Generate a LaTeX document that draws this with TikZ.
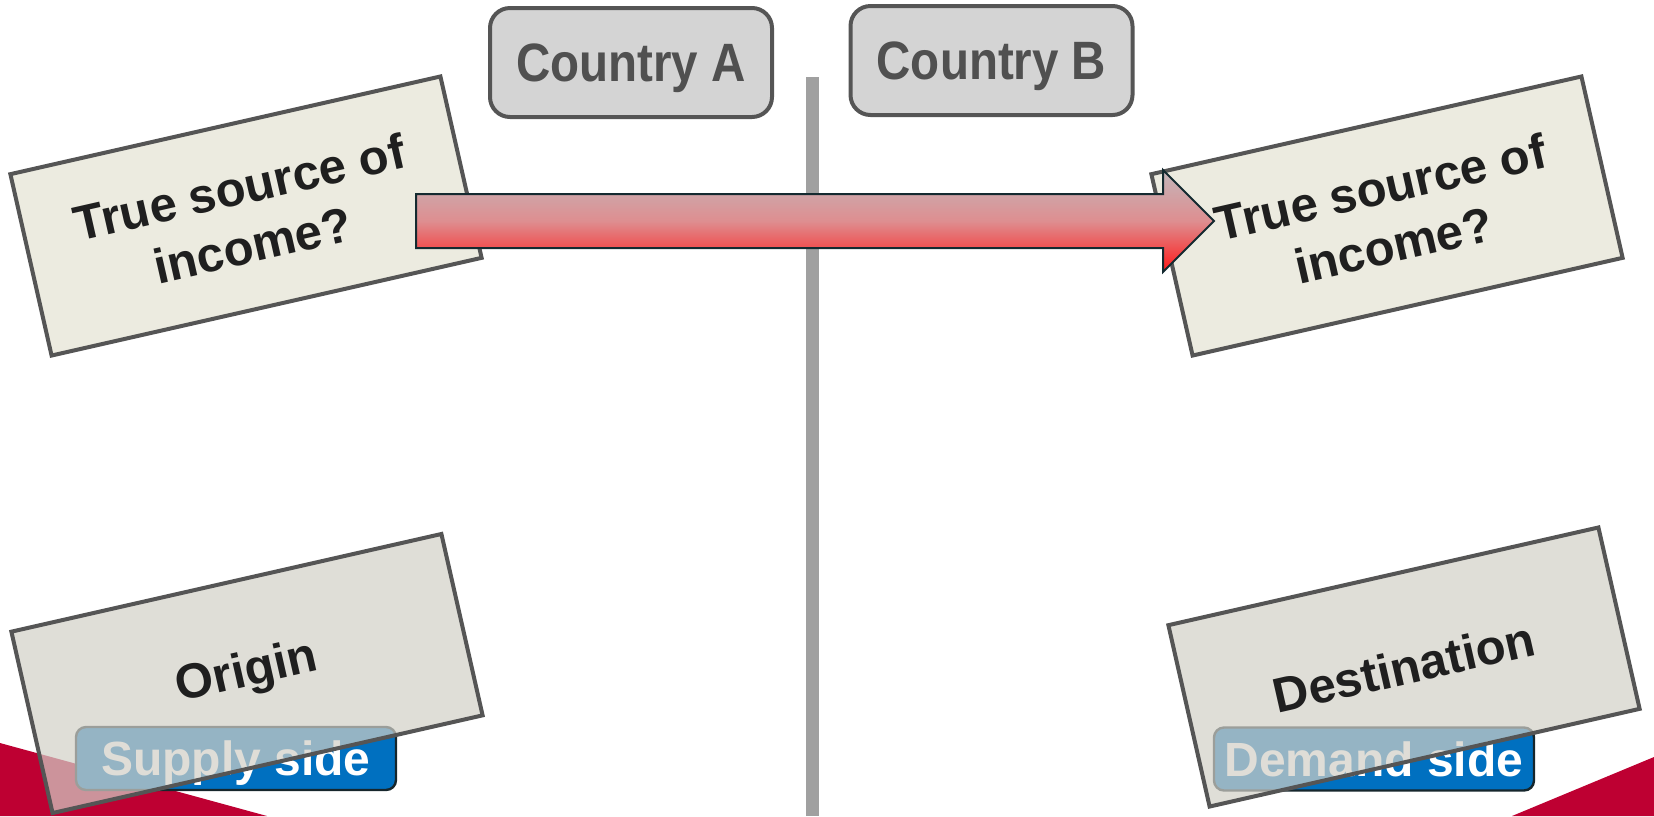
\documentclass[tikz,border=0pt]{standalone}
\usepackage{fontspec}
\setmainfont{Liberation Sans}
\newfontfamily\narrowFont[FakeStretch=0.88]{Liberation Sans}
\usetikzlibrary{shapes.arrows}
\definecolor{cardFill}{RGB}{236,235,224}
\definecolor{baseFill}{RGB}{210,208,199}
\definecolor{edgeGray}{RGB}{85,85,85}
\definecolor{tagBlue}{RGB}{0,112,192}
\definecolor{tagEdge}{RGB}{22,38,44}
\definecolor{crimson}{RGB}{190,0,50}
\definecolor{divider}{RGB}{160,160,160}
\definecolor{countryFill}{RGB}{212,212,212}
\definecolor{countryText}{RGB}{80,80,80}
\definecolor{arrowTop}{RGB}{195,182,186}
\definecolor{arrowMid}{RGB}{222,142,144}
\definecolor{arrowBot}{RGB}{255,25,25}
\definecolor{arrowEdge}{RGB}{20,42,48}
\newcommand{\boxFont}{\bfseries\fontsize{24.5}{29.5}\selectfont}

\begin{document}
\begin{tikzpicture}[
    x=0.5pt, y=-0.5pt,
    country/.style={%
      draw=edgeGray,
      line width=2pt,
      fill=countryFill,
      rounded corners=10pt,
      minimum width=141pt,
      minimum height=54.5pt,
      text depth=0pt,
      text=countryText,
      font=\narrowFont\bfseries\fontsize{27}{30}\selectfont,
    },
    card/.style={%
      draw=edgeGray,
      line width=2pt,
      rectangle,
      rotate=12.8,
      fill=cardFill,
      minimum width=220.5pt,
      minimum height=93pt,
      align=center,
      text=black!88,
      font=\boxFont,
    },
    base/.style={%
      card,
      fill=baseFill,
      fill opacity=0.71,
      text opacity=1,
    },
    tag/.style={%
      draw=tagEdge,
      line width=1.2pt,
      fill=tagBlue,
      rounded corners=5pt,
      minimum width=160pt,
      minimum height=31.5pt,
      inner sep=0pt,
      text depth=0pt,
      text=white,
      font=\bfseries\fontsize{24}{28}\selectfont,
    },
    flow/.style={%
      single arrow,
      draw=arrowEdge,
      line width=1pt,
      minimum height=399pt,
      inner xsep=0pt,
      inner ysep=13pt,
      single arrow head extend=12pt,
      single arrow tip angle=90,
      top color=arrowTop,
      bottom color=arrowBot,
      middle color=arrowMid,
    },
  ]
    \useasboundingbox (0,0) rectangle (1654,816);

    % red corners
    \fill [crimson] (0,743) -- (267,816) -- (0,816) -- cycle;
    \fill [crimson] (1512,816) -- (1654,757) -- (1654,816) -- cycle;

    % border between the two countries
    \coordinate (lineTop) at (812.5,77);
    \coordinate (lineEnd) at (812.5,816);
    \draw [divider, line width=6.5pt] (lineTop) -- (lineEnd);

    \node [country] (CA) at (631,62.5) {Country A};
    \path (CA) ++(360.5,-2) node [country] (CB) {Country B};

    \node [card] (SA) at (246,216) {True source of\\income?};
    \node [card] (SB) at (1387,216) {True source of\\income?};

    \node [flow, anchor=tail] (F) at (415,221) {};

    \node [tag] (S) at (236,758.5) {Supply side};
    \node [tag] (D) at (1374,759) {Demand side};

    \path (SA) ++(1,457.5) node [base] (O) {Origin};
    \path (SB) ++(17,451) node [base] (T) {Destination};
\end{tikzpicture}
\end{document}
